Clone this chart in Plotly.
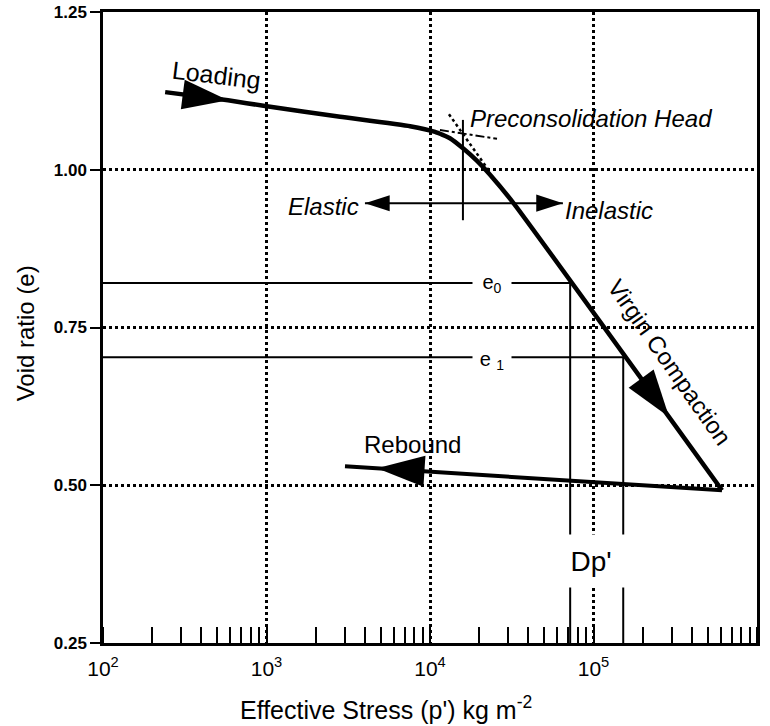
import math
import plotly.graph_objects as go

# ---------------- data ----------------
# loading + virgin compaction curve
stress = [240, 582, 980, 2820, 7550, 10740, 13240, 15920, 19400, 23300, 33100, 611000]
void_ratio = [1.123, 1.110, 1.101, 1.084, 1.069, 1.060, 1.050, 1.034, 1.014, 0.992, 0.944, 0.492]

# rebound branch
rebound_stress = [611000, 3020]
rebound_void = [0.492, 0.530]

# e0 / e1 construction
e0, p0 = 0.8205, 72000
e1, p1 = 0.703, 152000
p_min, e_min = 100, 0.25

# preconsolidation construction
precon_stress = 15900
precon_void = [1.079, 0.920]
elastic_void = 0.947
elastic_stress = [4000, 65000]
loading_tangent_stress = [11500, 25700]
loading_tangent_void = [1.063, 1.049]
virgin_ext_stress = [13060, 23300]
virgin_ext_void = [1.088, 0.996]

# arrow heads: (previous point, tip point, size)
arrow_prev_stress = [240, 33100, 611000, 15900, 15900]
arrow_prev_void = [1.123, 0.944, 0.492, 0.947, 0.947]
arrow_tip_stress = [582, 290000, 4740, 4000, 65000]
arrow_tip_void = [1.110, 0.608, 0.527, 0.947, 0.947]
arrow_sizes = [48, 50, 50, 26, 28]

x_ticks = [100, 1000, 10000, 100000, 1000000]
x_ticktext = ["10<sup>2</sup>", "10<sup>3</sup>", "10<sup>4</sup>", "10<sup>5</sup>", "10<sup>6</sup>"]
y_ticks = [0.25, 0.50, 0.75, 1.00, 1.25]

FONT = "Liberation Sans, Arial, sans-serif"
K = "black"

fig = go.Figure()

# main curve
fig.add_trace(go.Scatter(x=stress, y=void_ratio, mode="lines",
                         line=dict(color=K, width=4.5, shape="spline", smoothing=0.4),
                         hoverinfo="skip"))
# rebound
fig.add_trace(go.Scatter(x=rebound_stress, y=rebound_void, mode="lines",
                         line=dict(color=K, width=4), hoverinfo="skip"))
# e0 and e1 guide lines
fig.add_trace(go.Scatter(x=[p_min, p0, p0], y=[e0, e0, e_min], mode="lines",
                         line=dict(color=K, width=2), hoverinfo="skip"))
fig.add_trace(go.Scatter(x=[p_min, p1, p1], y=[e1, e1, e_min], mode="lines",
                         line=dict(color=K, width=2), hoverinfo="skip"))
# preconsolidation vertical and elastic / inelastic line
fig.add_trace(go.Scatter(x=[precon_stress, precon_stress], y=precon_void, mode="lines",
                         line=dict(color=K, width=2), hoverinfo="skip"))
fig.add_trace(go.Scatter(x=elastic_stress, y=[elastic_void, elastic_void], mode="lines",
                         line=dict(color=K, width=2), hoverinfo="skip"))
# Casagrande construction lines
fig.add_trace(go.Scatter(x=loading_tangent_stress, y=loading_tangent_void, mode="lines",
                         line=dict(color=K, width=2, dash="dashdot"), hoverinfo="skip"))
fig.add_trace(go.Scatter(x=virgin_ext_stress, y=virgin_ext_void, mode="lines",
                         line=dict(color=K, width=2.5, dash="dot"), hoverinfo="skip"))

# arrow heads
for xp, yp, xt, yt, s in zip(arrow_prev_stress, arrow_prev_void,
                             arrow_tip_stress, arrow_tip_void, arrow_sizes):
    fig.add_trace(go.Scatter(x=[xp, xt], y=[yp, yt], mode="markers",
                             marker=dict(symbol="arrow", size=[0, s], color=K, opacity=1,
                                         angleref="previous", line=dict(width=0)),
                             hoverinfo="skip"))

L = math.log10
ann = []
def txt(text, x, y, size=24, **kw):
    d = dict(text=text, x=x, y=y, xref="x", yref="y", showarrow=False,
             font=dict(family=FONT, size=size, color=K))
    d.update(kw)
    ann.append(d)

txt("Loading", 2.697, 1.150, size=25, textangle=7)
txt("<i>Preconsolidation Head</i>", 4.232, 1.082, xanchor="left")
txt("<i>Elastic</i>", 3.578, 0.941, xanchor="right")
txt("<i>Inelastic</i>", 4.813, 0.936, xanchor="left")
txt("Virgin Compaction", 5.468, 0.695, textangle=55)
txt("Rebound", 3.890, 0.564)
txt("Dp'", 4.985, 0.380, size=28, bgcolor="white", width=70, height=50)
txt("e<sub>0</sub>", L(p0) - 0.478, e0, size=20, bgcolor="white", width=36)
txt("e <sub>1</sub>", L(p0) - 0.478, e1, size=20, bgcolor="white", width=36, yshift=-3)

ann.append(dict(text="Effective Stress (p') kg m<sup>-2</sup>", xref="paper", yref="paper",
                x=0.433, y=-0.103, showarrow=False, xanchor="center", yanchor="middle",
                font=dict(family=FONT, size=25, color=K)))
ann.append(dict(text="Void ratio (e)", xref="paper", yref="paper", textangle=-90,
                x=-0.119, y=0.491, showarrow=False, xanchor="center", yanchor="middle",
                font=dict(family=FONT, size=24, color=K)))

fig.update_layout(
    width=770, height=726,
    margin=dict(l=103, r=13, t=12, b=83, autoexpand=False),
    paper_bgcolor="white", plot_bgcolor="white",
    showlegend=False,
    annotations=ann,
    xaxis=dict(type="log", range=[2, 6], tickvals=x_ticks, ticktext=x_ticktext,
               automargin=False,
               showgrid=True, gridcolor=K, griddash="dot", gridwidth=2.5,
               showline=True, linecolor=K, linewidth=2.5, mirror=True,
               ticks="", zeroline=False, ticklabelstandoff=5,
               tickfont=dict(family=FONT, size=21, color=K),
               minor=dict(dtick="D1", ticks="inside", ticklen=16, tickwidth=2,
                          tickcolor=K, showgrid=False)),
    yaxis=dict(range=[0.25, 1.25], tickvals=y_ticks, tickformat=".2f",
               automargin=False,
               showgrid=True, gridcolor=K, griddash="dot", gridwidth=2.5,
               showline=True, linecolor=K, linewidth=2.5, mirror=True,
               ticks="outside", ticklen=10, tickwidth=2, tickcolor=K, zeroline=False,
               tickfont=dict(family=FONT, size=17, color=K, weight="bold")),
)

fig.write_html("out.html")
